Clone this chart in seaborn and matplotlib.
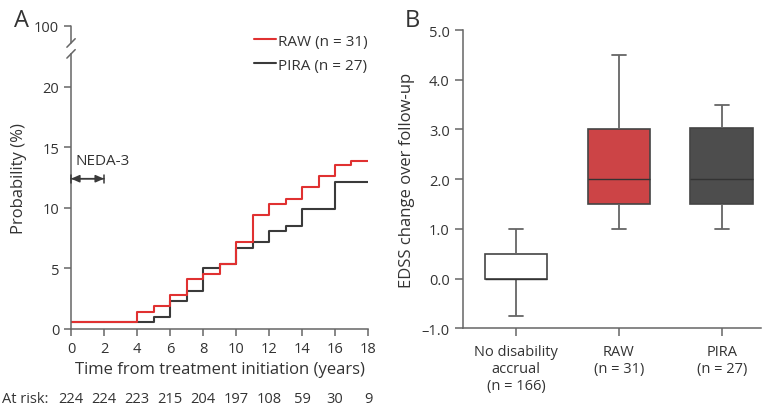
import matplotlib
matplotlib.use("Agg")
import matplotlib.pyplot as plt
import matplotlib.transforms as mtransforms
import numpy as np
import pandas as pd
import seaborn as sns

# Panel A: cumulative probability (%) step curves
years = [0, 4, 5, 6, 7, 8, 9, 10, 11, 12, 13, 14, 15, 16, 17, 18]
raw_prob = [0.6, 1.4, 1.9, 2.8, 4.1, 4.5, 5.4, 7.2, 9.4, 10.3, 10.7, 11.7, 12.6, 13.5, 13.9, 13.9]
pira_prob = [0.6, 0.6, 1.0, 2.3, 3.1, 5.0, 5.4, 6.7, 7.2, 8.1, 8.5, 9.9, 9.9, 12.1, 12.1, 12.1]
risk_years = [0, 2, 4, 6, 8, 10, 12, 14, 16, 18]
at_risk = [224, 224, 223, 215, 204, 197, 108, 59, 30, 9]

# Panel B: five-number summaries (min, q1, median, q3, max)
groups = ["No disability\naccrual\n(n = 166)", "RAW\n(n = 31)", "PIRA\n(n = 27)"]
no_dis_box = [-0.75, 0.0, 0.0, 0.5, 1.0]
raw_box = [1.0, 1.5, 2.0, 3.0, 4.5]
pira_box = [1.0, 1.5, 2.0, 3.02, 3.5]

RED = "#e03131"
DARK = "#3a3a3a"
AXC = "#666666"
TXT = "#333333"

sns.set_style("ticks")
plt.rcParams["font.family"] = ["Open Sans", "DejaVu Sans"]
plt.rcParams["axes.edgecolor"] = AXC
plt.rcParams["xtick.color"] = AXC
plt.rcParams["ytick.color"] = AXC
plt.rcParams["xtick.labelcolor"] = TXT
plt.rcParams["ytick.labelcolor"] = TXT
plt.rcParams["axes.labelcolor"] = TXT
plt.rcParams["text.color"] = TXT

fig = plt.figure(figsize=(7.63, 4.06), dpi=100)
ax1 = fig.add_axes([0.0931, 0.1872, 0.3892, 0.7463])
ax2 = fig.add_axes([0.6068, 0.1889, 0.3906, 0.7347])

# ---- panel A
df_a = pd.DataFrame({"year": years, "PIRA": pira_prob, "RAW": raw_prob})
sns.lineplot(data=df_a, x="year", y="PIRA", drawstyle="steps-post", color=DARK,
             lw=1.5, ax=ax1, label="PIRA (n = 27)")
sns.lineplot(data=df_a, x="year", y="RAW", drawstyle="steps-post", color=RED,
             lw=1.5, ax=ax1, label="RAW (n = 31)")
h, l = ax1.get_legend_handles_labels()
ax1.legend(h[::-1], l[::-1], loc="upper right", bbox_to_anchor=(1.0, 0.975),
           frameon=False, fontsize=11, handlelength=1.45, handletextpad=0.15,
           labelspacing=0.6, borderpad=0, borderaxespad=0)

ax1.set_xlim(0, 18)
ax1.set_ylim(0, 25)
ax1.set_xticks(risk_years)
ax1.set_yticks([0, 5, 10, 15, 20, 25])
ax1.set_yticklabels(["0", "5", "10", "15", "20", "100"])
ax1.tick_params(labelsize=10.5, length=5, width=1.1)
ax1.set_xlabel("Time from treatment initiation (years)", fontsize=12, labelpad=4)
ax1.set_ylabel("Probability (%)", fontsize=12, labelpad=5)
sns.despine(ax=ax1)
ax1.spines["left"].set_bounds(0, 22.7)
ax1.spines["left"].set_linewidth(1.1)
ax1.spines["bottom"].set_linewidth(1.1)

# broken axis marks
trans = mtransforms.blended_transform_factory(ax1.transAxes, ax1.transData)
ax1.plot([0, 0], [23.6, 25], color=AXC, lw=1.1, transform=trans, clip_on=False)
for yb in (22.7, 23.6):
    ax1.plot([-0.014, 0.014], [yb - 0.35, yb + 0.35], color=AXC, lw=1.1,
             transform=trans, clip_on=False)

# NEDA-3 annotation
ax1.annotate("", xy=(0, 12.4), xytext=(2, 12.4),
             arrowprops=dict(arrowstyle="<|-|>,head_length=0.5,head_width=0.22",
                             color=DARK, lw=1.1, shrinkA=0, shrinkB=0))
ax1.annotate("", xy=(0, 12.4), xytext=(2, 12.4),
             arrowprops=dict(arrowstyle="|-|,widthA=0.3,widthB=0.3",
                             color=DARK, lw=1.1, shrinkA=0, shrinkB=0))
ax1.text(0.25, 13.9, "NEDA-3", fontsize=11, va="center", ha="left")

# at-risk row
trans_r = mtransforms.blended_transform_factory(ax1.transData, fig.transFigure)
fig.text(0.003, 0.017, "At risk:", fontsize=10.5, va="center", ha="left")
for yr, n in zip(risk_years, at_risk):
    ax1.text(yr, 0.017, str(n), transform=trans_r, fontsize=10.5,
             va="center", ha="center")

# ---- panel B
df_b = pd.DataFrame({
    "group": np.repeat(groups, 5),
    "value": no_dis_box + raw_box + pira_box,
})
sns.boxplot(data=df_b, x="group", y="value", hue="group", order=groups,
            hue_order=groups, palette=["#ffffff", "#cc4446", "#4d4d4d"],
            saturation=1, legend=False, width=0.61, whis=(0, 100),
            linecolor="#444444", linewidth=1.2, ax=ax2,
            medianprops=dict(color="#333333", lw=1.0),
            whiskerprops=dict(color=AXC, lw=1.3),
            capprops=dict(color=AXC, lw=1.3), capwidths=0.13)
ax2.set_xlim(-0.515, 2.38)
ax2.set_ylim(-1, 5)
ax2.set_yticks(np.arange(-1, 5.01, 1.0))
ax2.set_yticklabels([f"{v:.1f}".replace("-", "\u2013") for v in np.arange(-1, 5.01, 1.0)])
ax2.set_xlabel("")
ax2.set_ylabel("EDSS change over follow-up", fontsize=12, labelpad=5)
ax2.tick_params(labelsize=10.5, length=6, width=1.1)
ax2.tick_params(axis="x", pad=5)
sns.despine(ax=ax2)
ax2.spines["left"].set_linewidth(1.1)
ax2.spines["bottom"].set_linewidth(1.1)

fig.text(0.018, 0.978, "A", fontsize=17, va="top", ha="left")
fig.text(0.531, 0.978, "B", fontsize=17, va="top", ha="left")

fig.savefig("out.png", dpi=100)
